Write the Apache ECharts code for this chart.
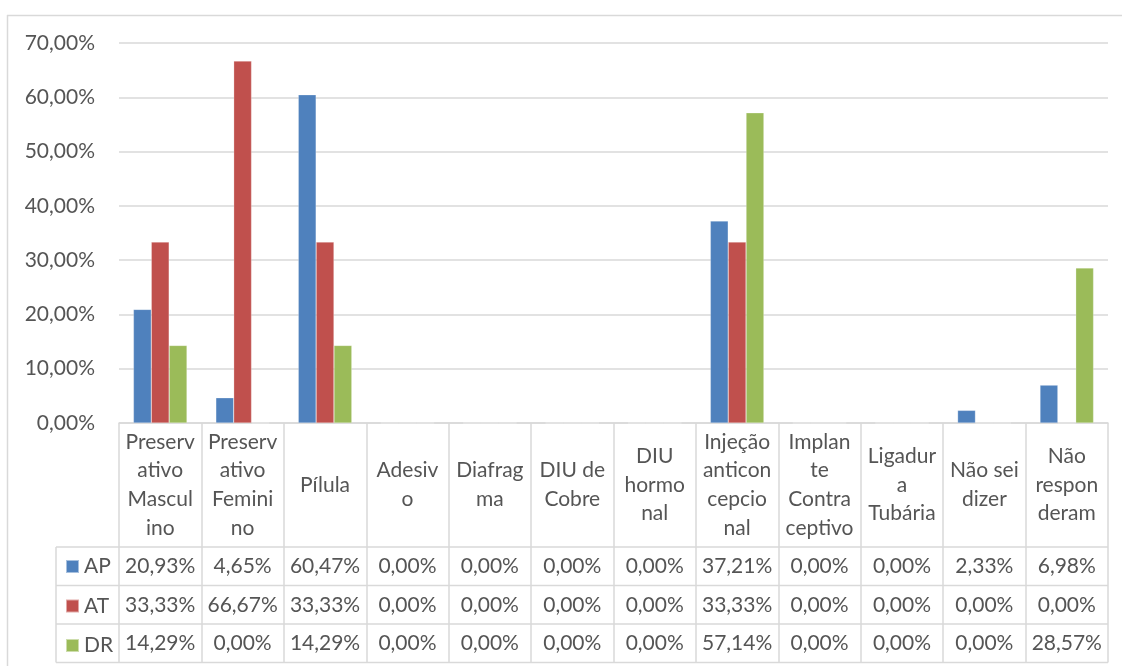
<!DOCTYPE html>
<html>
<head>
<meta charset="utf-8">
<script src="https://cdn.jsdelivr.net/npm/echarts@6/dist/echarts.min.js"></script>
<style>
html,body{margin:0;padding:0;background:#fff;}
#chart{width:1122px;height:666px;}
</style>
</head>
<body>
<div id="chart"></div>
<script>
// ---- data ----
const categories = ["Preservativo Masculino","Preservativo Feminino","Pílula","Adesivo","Diafragma","DIU de Cobre","DIU hormonal","Injeção anticoncepcional","Implante Contraceptivo","Ligadura Tubária","Não sei dizer","Não responderam"];
const categoryLabels = ["Preserv\nativo\nMascul\nino","Preserv\nativo\nFemini\nno","Pílula","Adesiv\no","Diafrag\nma","DIU de\nCobre","DIU\nhormo\nnal","Injeção\nanticon\ncepcio\nnal","Implan\nte\nContra\nceptivo","Ligadur\na\nTubária","Não sei\ndizer","Não\nrespon\nderam"];
const seriesNames = ["AP","AT","DR"];
const apValues = [20.93,4.65,60.47,0,0,0,0,37.21,0,0,2.33,6.98];
const atValues = [33.33,66.67,33.33,0,0,0,0,33.33,0,0,0,0];
const drValues = [14.29,0,14.29,0,0,0,0,57.14,0,0,0,28.57];
const yTicks = [0,10,20,30,40,50,60,70];
const colors = ["#4f81bd","#c0504d","#9bbb59"];

// ---- layout ----
const FONT = "Lato";
const FS = 21;
const TXT = "#555555";
const LINE = "#d9d9d9";
const W = 1122, H = 666;
const gridLeft = 119, gridRight = 1108, gridTop = 43, gridBottom = 423;
const headerH = 124, rowH = 38.5, legendColLeft = 56;

const allValues = [apValues, atValues, drValues];
const pct = v => v.toFixed(2).replace('.', ',') + '%';

const chart = echarts.init(document.getElementById('chart'), null, {renderer: 'canvas'});

const xAxes = [{
  type: 'category',
  data: categories,
  gridIndex: 0,
  position: 'bottom',
  boundaryGap: true,
  axisLine: {show: true, lineStyle: {color: LINE, width: 1.5}},
  axisTick: {show: true, interval: 0, length: headerH + rowH * 3, lineStyle: {color: LINE, width: 1.5}},
  axisLabel: {
    interval: 0, hideOverlap: false,
    formatter: (v, i) => categoryLabels[i],
    margin: headerH / 2, verticalAlign: 'middle',
    fontFamily: FONT, fontSize: FS, color: TXT, lineHeight: 28.7, align: 'center'
  },
  splitLine: {show: false}
}];
allValues.forEach((vals, s) => {
  xAxes.push({
    type: 'category',
    data: categories,
    gridIndex: 0,
    position: 'bottom',
    offset: headerH + rowH * s,
    boundaryGap: true,
    axisLine: {show: false},
    axisTick: {show: false},
    axisLabel: {
      interval: 0, hideOverlap: false,
      formatter: (v, i) => pct(vals[i]),
      margin: rowH / 2, verticalAlign: 'middle',
      fontFamily: FONT, fontSize: FS, color: TXT
    },
    splitLine: {show: false}
  });
});

const graphics = [];
const lineEl = (x1, y1, x2, y2) => ({type: 'line', silent: true, shape: {x1, y1, x2, y2}, style: {stroke: LINE, lineWidth: 1.5}});
// outer chart border (top, left)
graphics.push(lineEl(7, 15.5, W, 15.5));
graphics.push(lineEl(7.5, 15, 7.5, H));
// table horizontal lines
for (let r = 0; r <= 3; r++) {
  const y = gridBottom + headerH + rowH * r;
  graphics.push(lineEl(legendColLeft, y, gridRight, y));
}
graphics.push(lineEl(legendColLeft, gridBottom + headerH, legendColLeft, gridBottom + headerH + rowH * 3));

const option = {
  backgroundColor: '#ffffff',
  animation: false,
  textStyle: {fontFamily: FONT},
  grid: {left: gridLeft, right: W - gridRight, top: gridTop, bottom: H - gridBottom, containLabel: false, outerBoundsMode: 'none'},
  legend: {
    orient: 'vertical',
    left: 60, top: gridBottom + headerH + 4,
    padding: 5,
    itemWidth: 13, itemHeight: 13, itemGap: rowH - 20,
    icon: 'rect',
    data: seriesNames,
    textStyle: {fontFamily: FONT, fontSize: FS, color: TXT, lineHeight: 20, padding: [0, 0, 0, 0]},
    selectedMode: false
  },
  xAxis: xAxes,
  yAxis: {
    type: 'value',
    min: 0, max: 70, interval: 10,
    axisLine: {show: false},
    axisTick: {show: false},
    axisLabel: {formatter: v => pct(v), margin: 24, fontFamily: FONT, fontSize: FS, color: TXT},
    splitLine: {show: true, lineStyle: {color: LINE, width: 1.5}}
  },
  series: seriesNames.map((name, s) => ({
    name,
    type: 'bar',
    xAxisIndex: 0,
    data: allValues[s],
    barGap: '0%',
    barCategoryGap: '35%',
    itemStyle: {color: colors[s], borderColor: 'rgba(255,255,255,0.5)', borderWidth: 0.5}
  })),
  graphic: graphics
};
chart.setOption(option);
</script>
</body>
</html>
